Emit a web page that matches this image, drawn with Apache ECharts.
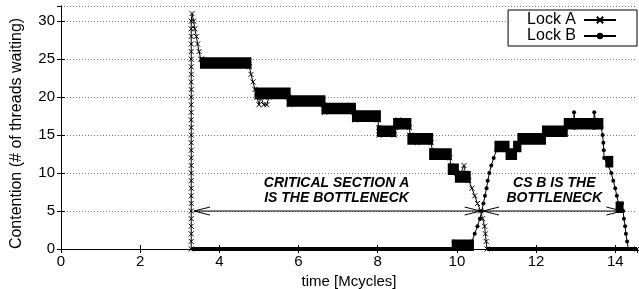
<!DOCTYPE html>
<html>
<head>
<meta charset="utf-8">
<script src="https://cdn.jsdelivr.net/npm/echarts@6/dist/echarts.min.js"></script>
<style>
  html, body { margin: 0; padding: 0; background: #fff; }
  #chart1 { width: 639px; height: 289px; }
</style>
</head>
<body>
<div id="chart1"></div>
<script>
// ---- data ----
var yTicks = [0, 5, 10, 15, 20, 25, 30];
var xTicks = [0, 2, 4, 6, 8, 10, 12, 14];

// Lock A: explicit samples (x in Mcycles, y = threads waiting)
var lockA = [
    [3.29, 0], [3.29, 1], [3.29, 2], [3.29, 3], [3.29, 4], [3.29, 5], [3.29, 6], [3.29, 7],
    [3.29, 8], [3.29, 9], [3.29, 10], [3.29, 11], [3.29, 12], [3.29, 13], [3.29, 14], [3.29, 15],
    [3.29, 16], [3.29, 17], [3.29, 18], [3.29, 19], [3.29, 20], [3.29, 21], [3.29, 22], [3.29, 23],
    [3.29, 24], [3.29, 25], [3.29, 26], [3.29, 27], [3.29, 28], [3.29, 29], [3.29, 30], [3.31, 31],
    [3.35, 30], [3.38, 29], [3.42, 28], [3.45, 27], [3.49, 26], [3.53, 25], [3.56, 25],
    [4.76, 24], [4.8, 23], [4.85, 22], [4.9, 21], [4.95, 20], [5.0, 19], [5.05, 20], [5.12, 19],
    [5.2, 19], [5.25, 20], [5.75, 20], [5.78, 19], [6.63, 19], [6.66, 18], [7.4, 18], [7.43, 17],
    [8.0, 17], [8.03, 16], [8.03, 15], [8.42, 15], [8.45, 16], [8.52, 17], [8.8, 16], [8.82, 15],
    [9.0, 14], [9.35, 14], [9.38, 13], [9.82, 12], [9.85, 11], [10.0, 10], [10.1, 10], [10.18, 11],
    [10.22, 10], [10.3, 9], [10.38, 8], [10.45, 7], [10.52, 6], [10.6, 5], [10.65, 4], [10.7, 3],
    [10.72, 2], [10.74, 1], [10.76, 0], [14.55, 0]
];
// Lock A: stretches where the count flips fast between two values [x0, x1, low, high]
var bandsA = [
    [3.56, 4.76, 24, 25], [4.94, 5.75, 20, 21], [5.75, 6.63, 19, 20], [6.63, 7.4, 18, 19],
    [7.4, 8.03, 17, 18], [8.03, 8.42, 15, 16], [8.44, 8.8, 16, 17], [8.8, 9.35, 14, 15],
    [9.35, 9.82, 12, 13], [9.82, 10.0, 10, 11], [10.0, 10.3, 9, 10], [10.76, 14.55, 0, 0]
];

// Lock B
var lockB = [
    [3.33, 0], [9.92, 0], [9.92, 1], [10.38, 1], [10.45, 2], [10.52, 3], [10.58, 4], [10.63, 5],
    [10.67, 6], [10.71, 7], [10.75, 8], [10.78, 9], [10.82, 10], [10.87, 11], [10.93, 12], [11.0, 13],
    [11.28, 13], [11.3, 12], [11.47, 13], [11.58, 14], [12.2, 15], [12.75, 16], [12.96, 16], [12.96, 18],
    [12.98, 16], [13.45, 16], [13.47, 18], [13.5, 17], [13.65, 16], [13.68, 15], [13.7, 14], [13.71, 13],
    [13.72, 12], [13.82, 11], [13.9, 10], [13.95, 9], [14.0, 8], [14.04, 7], [14.08, 6], [14.12, 5],
    [14.17, 6], [14.2, 5], [14.22, 4], [14.25, 3], [14.27, 2], [14.3, 1], [14.33, 0]
];
var bandsB = [
    [3.33, 9.92, 0, 0], [9.92, 10.38, 0, 1], [11.0, 11.28, 13, 14], [11.28, 11.47, 12, 13],
    [11.47, 11.58, 13, 14], [11.58, 12.2, 14, 15], [12.2, 12.75, 15, 16], [12.75, 13.47, 16, 17],
    [13.47, 13.65, 16, 17], [13.8, 13.9, 11, 12], [14.06, 14.16, 5, 6]
];

// annotations: double arrows [x0, x1, y] and text [x, y, label]
var arrows = [[3.36, 10.6, 5], [10.66, 14.18, 5]];
var notes = [
    [6.96, 8.7, 'CRITICAL SECTION A'], [6.96, 6.7, 'IS THE BOTTLENECK'],
    [12.46, 8.7, 'CS B IS THE'], [12.46, 6.7, 'BOTTLENECK']
];

var chart = echarts.init(document.getElementById('chart1'));
var FONT = 'Liberation Sans';

function bandItem(params, api) {
    var p0 = api.coord([api.value(0), api.value(3)]);
    var p1 = api.coord([api.value(1), api.value(2)]);
    return {
        type: 'rect',
        shape: { x: p0[0], y: p0[1], width: p1[0] - p0[0], height: p1[1] - p0[1] },
        style: { fill: '#000', stroke: '#000', lineWidth: 4 }
    };
}

function arrowItem(params, api) {
    var a = api.coord([api.value(0), api.value(2)]);
    var b = api.coord([api.value(1), api.value(2)]);
    var L = 16, H = 4;
    var st = { stroke: '#000', lineWidth: 1, fill: null };
    return {
        type: 'group',
        children: [
            { type: 'line', shape: { x1: a[0], y1: a[1], x2: b[0], y2: b[1] }, style: st },
            { type: 'polyline', shape: { points: [[a[0] + L, a[1] - H], [a[0], a[1]], [a[0] + L, a[1] + H]] }, style: st },
            { type: 'polyline', shape: { points: [[b[0] - L, b[1] - H], [b[0], b[1]], [b[0] - L, b[1] + H]] }, style: st }
        ]
    };
}

function noteItem(params, api) {
    var p = api.coord([api.value(0), api.value(1)]);
    return {
        type: 'text',
        x: p[0], y: p[1],
        style: {
            text: notes[params.dataIndex][2],
            font: 'italic bold 14px ' + FONT,
            fill: '#000', align: 'center', verticalAlign: 'middle'
        }
    };
}

var crossPath = 'path://M0,0L10,10M10,0L0,10';

var option = {
    animation: false,
    backgroundColor: '#fff',
    textStyle: { fontFamily: FONT },
    grid: { left: 61, right: 2, top: 6, bottom: 40, outerBoundsMode: 'none', containLabel: false },
    legend: {
        data: ['Lock A', 'Lock B'],
        orient: 'vertical',
        right: 2, top: 10,
        align: 'right',
        itemWidth: 32, itemHeight: 8, itemGap: 0,
        padding: [2, 20, 2, 19],
        borderColor: '#000', borderWidth: 1,
        backgroundColor: '#fff',
        textStyle: { fontSize: 16, lineHeight: 16, color: '#000', fontFamily: FONT, padding: [0, 3, 0, 0] }
    },
    xAxis: [{
        type: 'value', position: 'bottom',
        min: 0, max: 14.55, interval: 2,
        name: 'time [Mcycles]', nameLocation: 'middle', nameGap: 23,
        nameTextStyle: { fontSize: 15, color: '#000', fontFamily: FONT },
        axisLine: { lineStyle: { color: '#000', width: 1 } },
        axisTick: { inside: true, length: 4, lineStyle: { color: '#000' } },
        axisLabel: { color: '#000', fontSize: 15, margin: 5, showMaxLabel: false, fontFamily: FONT },
        splitLine: { show: false }
    }, {
        type: 'value', position: 'top',
        min: 0, max: 14.55, interval: 2,
        axisLine: { lineStyle: { color: '#000', width: 1 } },
        axisTick: { inside: true, length: 4, lineStyle: { color: '#000' } },
        axisLabel: { show: false },
        splitLine: { show: false }
    }],
    yAxis: [{
        type: 'value', position: 'left',
        min: 0, max: 32, interval: 5,
        name: 'Contention (# of threads waiting)', nameLocation: 'middle', nameGap: 36,
        nameTextStyle: { fontSize: 16, color: '#000', fontFamily: FONT, padding: [0, 12, 0, 0] },
        axisLine: { show: true, lineStyle: { color: '#000', width: 1 } },
        axisTick: { show: true, inside: true, length: 4, lineStyle: { color: '#000' } },
        axisLabel: { color: '#000', fontSize: 15, margin: 6, showMaxLabel: false, fontFamily: FONT },
        splitLine: { show: true, lineStyle: { color: '#777', type: [1, 2], width: 1 } }
    }, {
        type: 'value', position: 'right',
        min: 0, max: 32, interval: 5,
        axisLine: { show: true, lineStyle: { color: '#000', width: 1 } },
        axisTick: { show: true, inside: true, length: 4, lineStyle: { color: '#000' } },
        axisLabel: { show: false },
        splitLine: { show: false }
    }],
    series: [{
        name: 'bandsA', type: 'custom', renderItem: bandItem,
        data: bandsA, silent: true, z: 3
    }, {
        name: 'bandsB', type: 'custom', renderItem: bandItem,
        data: bandsB, silent: true, z: 3
    }, {
        name: 'Lock A', type: 'line', data: lockA, z: 4,
        symbol: crossPath, symbolSize: 5, showAllSymbol: true,
        lineStyle: { color: '#000', width: 1 },
        itemStyle: { color: '#000', borderColor: '#000', borderWidth: 1 }
    }, {
        name: 'Lock B', type: 'line', data: lockB, z: 4,
        symbol: 'circle', symbolSize: 4, showAllSymbol: true,
        lineStyle: { color: '#000', width: 1 },
        itemStyle: { color: '#000' }
    }, {
        name: 'arrows', type: 'custom', renderItem: arrowItem,
        data: arrows, silent: true, z: 5
    }, {
        name: 'notes', type: 'custom', renderItem: noteItem,
        data: notes.map(function (n) { return [n[0], n[1]]; }), silent: true, z: 6
    }]
};

chart.setOption(option);
</script>
</body>
</html>
